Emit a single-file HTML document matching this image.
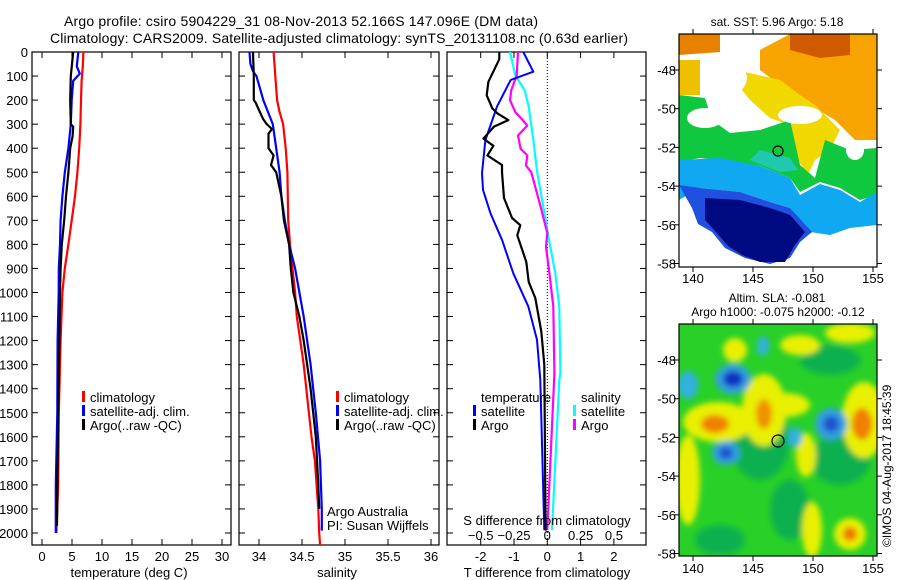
<!DOCTYPE html>
<html><head><meta charset="utf-8"><style>
html,body{margin:0;padding:0;background:#fff}
svg{display:block;font-family:"Liberation Sans",sans-serif}
</style></head><body>
<svg id="fig" width="900" height="580" viewBox="0 0 900 580" xmlns="http://www.w3.org/2000/svg">
<defs><filter id="bl" x="-50%" y="-50%" width="200%" height="200%"><feGaussianBlur stdDeviation="3"/></filter>
<clipPath id="cm1"><rect x="679" y="34" width="198" height="233"/></clipPath>
<clipPath id="cm2"><rect x="679" y="324" width="198" height="232"/></clipPath></defs>
<text x="301" y="26" font-size="14" text-anchor="middle" textLength="474">Argo profile: csiro 5904229_31 08-Nov-2013 52.166S 147.096E (DM data)</text>
<text x="339" y="43" font-size="14" text-anchor="middle" textLength="578">Climatology: CARS2009. Satellite-adjusted climatology: synTS_20131108.nc (0.63d earlier)</text>
<g id="panels"></g>
<g id="maps"></g>
</svg>
<script>
// ---- data (depth in dbar) ----
const tDepth=[0,60,90,120,200,300,400,500,600,700,800,900,1000,1200,1500,1800,2000];
const tClim=[6.9,6.8,6.7,6.6,6.5,6.4,6.2,5.9,5.5,4.95,4.4,3.8,3.4,3.1,2.8,2.7,2.4];
const tSat=[6.05,5.8,6.3,5.2,4.95,4.8,4.4,3.8,3.4,3.1,3.0,2.8,2.78,2.6,2.55,2.3,2.3];
const tArgoDepth=[0,100,200,300,310,350,400,500,600,700,800,900,1000,1200,1500,1800,1970];
const tArgo=[5.2,4.8,4.7,4.8,5.2,5.1,4.7,4.4,4.0,3.7,3.3,3.1,3.0,2.9,2.7,2.55,2.5];
const sDepth=[0,100,200,250,300,400,500,700,800,900,1000,1100,1200,1300,1500,1600,1700,1800,1900,2000,2050];
const sClim=[34.17,34.19,34.21,34.24,34.28,34.31,34.33,34.34,34.36,34.39,34.42,34.44,34.48,34.52,34.58,34.61,34.65,34.67,34.69,34.70,34.71];
const sSatDepth=[0,50,80,100,150,200,300,400,500,600,700,800,900,1000,1100,1300,1400,1500,1700,1900,1990];
const sSat=[33.89,33.9,33.93,33.97,34.01,34.05,34.16,34.2,34.24,34.26,34.30,34.35,34.42,34.47,34.52,34.60,34.63,34.66,34.71,34.73,34.73];
const sArgoDepth=[0,100,200,210,250,280,300,320,340,400,430,470,500,600,700,800,900,1000,1100,1200,1400,1500,1600,1800,1900];
const sArgo=[33.93,33.94,33.94,33.96,34.01,34.05,34.09,34.15,34.11,34.11,34.17,34.14,34.2,34.26,34.29,34.35,34.37,34.4,34.47,34.52,34.60,34.63,34.66,34.69,34.70];
const dtSatDepth=[0,82,116,227,366,503,573,670,781,920,1058,1197,1364,1988];
const dtSat=[-0.72,-0.42,-1.1,-1.51,-1.86,-1.96,-1.93,-1.71,-1.36,-1.02,-0.57,-0.31,-0.21,-0.09];
const dtArgoDepth=[0,30,124,180,235,255,283,310,360,390,430,470,500,607,690,720,762,873,956,1023,1162,1300,1990];
const dtArgo=[-1.44,-1.44,-1.77,-1.82,-1.65,-1.5,-1.17,-1.6,-1.92,-1.62,-1.8,-1.36,-1.36,-1.3,-1.06,-0.81,-0.9,-0.63,-0.56,-0.36,-0.18,-0.09,-0.05];
const dsSatDepth=[0,97,159,227,366,503,643,767,920,1058,1335,1364,1988];
const dsSat=[-0.28,-0.24,-0.17,-0.14,-0.105,-0.075,-0.03,0.008,0.06,0.09,0.098,0.09,0.035];
const dsArgoDepth=[0,97,159,200,250,280,306,347,403,430,472,500,643,753,809,920,1058,1335,1988];
const dsArgo=[-0.22,-0.23,-0.27,-0.28,-0.24,-0.19,-0.15,-0.22,-0.2,-0.15,-0.16,-0.12,-0.05,0,-0.01,0.016,0.045,0.053,0];
const depthTicks=[0,100,200,300,400,500,600,700,800,900,1000,1100,1200,1300,1400,1500,1600,1700,1800,1900,2000];
const tTicks=[0,5,10,15,20,25,30];
const sTicks=[34,34.5,35,35.5,36];
const dtTicks=[-2,-1,0,1,2];
const dsTicks=[-0.5,-0.25,0,0.25,0.5];
const lonTicks=[140,145,150,155];
const latTicks=[48,50,52,54,56,58];
// ---- scales ----
const yD=d=>52+d*0.2405;
const xT=t=>42+6*t;
const xS=s=>259+86*(s-34);
const xDT=t=>547.3+33.3*t;
const xDS=s=>547.3+133.2*s;
const NS='http://www.w3.org/2000/svg';
const P=document.getElementById('panels');
function mk(tag,at,par,txt){const e=document.createElementNS(NS,tag);for(const k in at)e.setAttribute(k,at[k]);if(txt!==undefined)e.textContent=txt;(par||P).appendChild(e);return e;}
function line(xs,ds,xf,col,name,w){
  const pts=xs.map((v,i)=>xf(v).toFixed(1)+','+yD(ds[i]).toFixed(1)).join(' ');
  const e=mk('polyline',{points:pts,fill:'none',stroke:col,'stroke-width':w||2.2,'stroke-linejoin':'round'});
  
  
}
const panels=[[32,231],[239,439],[447,646]];
const pb=545;
panels.forEach((p,i)=>{
  const r=mk('rect',{x:p[0],y:52,width:p[1]-p[0],height:pb-52,fill:'none',stroke:'#000','stroke-width':1.2});
  
  
  depthTicks.forEach(d=>{
    mk('line',{x1:p[0],x2:p[0]+6,y1:yD(d),y2:yD(d),stroke:'#000'});
    mk('line',{x1:p[1]-6,x2:p[1],y1:yD(d),y2:yD(d),stroke:'#000'});
  });
});
depthTicks.forEach(d=>{
  const t=mk('text',{x:28,y:yD(d)+5,'font-size':13,'text-anchor':'end'},P,String(d));
  
  
});
function xticks(ticks,xf,lab,ly,fmt){
  ticks.forEach(v=>{
    const x=xf(v);
    mk('line',{x1:x,x2:x,y1:pb,y2:pb-6,stroke:'#000'});
    mk('line',{x1:x,x2:x,y1:52,y2:58,stroke:'#000'});
    if(lab){const t=mk('text',{x:x,y:ly,'font-size':13,'text-anchor':'middle'},P,fmt?fmt(v):String(v));
    
    }
  });
}
xticks(tTicks,xT,true,561);
xticks(sTicks,xS,true,561);
xticks(dtTicks,xDT,true,561);
dsTicks.forEach(v=>{const t=mk('text',{x:xDS(v),y:540,'font-size':13,'text-anchor':'middle'},P,String(v).replace('-','\u2212'));

});
mk('line',{x1:xDT(0),x2:xDT(0),y1:52,y2:pb,stroke:'#000','stroke-dasharray':'1,2'});
line(tClim,tDepth,xT,'#f00','temp-climatology');
line(tSat,tDepth,xT,'#00f','temp-satellite-adj');
line(tArgo,tArgoDepth,xT,'#000','temp-argo');
line(sClim,sDepth,xS,'#f00','sal-climatology');
line(sSat,sSatDepth,xS,'#00f','sal-satellite-adj');
line(sArgo,sArgoDepth,xS,'#000','sal-argo');
line(dsSat,dsSatDepth,xDS,'#0ff','sdiff-satellite');
line(dsArgo,dsArgoDepth,xDS,'#f0f','sdiff-argo');
line(dtSat,dtSatDepth,xDT,'#00f','tdiff-satellite',2);
line(dtArgo,dtArgoDepth,xDT,'#000','tdiff-argo');
[['temperature (deg C)',129],['salinity',337],['T difference from climatology',547]].forEach((a,i)=>{
  const t=mk('text',{x:a[1],y:577,'font-size':13,'text-anchor':'middle'},P,a[0]);
  
  
});
const st=mk('text',{x:547,y:525,'font-size':13,'text-anchor':'middle'},P,'S difference from climatology');


function leg(x,y,col,label){
  mk('rect',{x:x,y:y-11,width:3,height:11,fill:col});
  const t=mk('text',{x:x+8,y:y,'font-size':13},P,label);
  
  
}
[[82],[336]].forEach(a=>{
  leg(a[0],402,'#f00','climatology');
  leg(a[0],416,'#00f','satellite-adj. clim.');
  leg(a[0],430,'#000','Argo(..raw -QC)');
});
mk('text',{x:481,y:402,'font-size':13},P,'temperature');
leg(473,416,'#00f','satellite');
leg(473,430,'#000','Argo');
mk('text',{x:581,y:402,'font-size':13},P,'salinity');
leg(573,416,'#0ff','satellite');
leg(573,430,'#f0f','Argo');
mk('text',{x:327,y:516,'font-size':13},P,'Argo Australia');
mk('text',{x:327,y:530,'font-size':13},P,'PI: Susan Wijffels');

// ---- maps ----
const M=document.getElementById('maps');
function mm(tag,at,txt,par){return mk(tag,at,par||M,txt);}
const g1=mm('g',{'clip-path':'url(#cm1)'});


mk('rect',{x:679,y:34,width:198,height:233,fill:'#fff'},g1);
const poly=(pts,c,g)=>mk('polygon',{points:pts,fill:c},g);
poly('790,34 877,34 877,140 855,140 835,120 810,105 790,100 780,85 760,70 760,50','#f7a400',g1);
poly('790,34 850,34 850,55 820,58 790,50','#d05a00',g1);
poly('679,34 720,34 720,52 679,55','#e88000',g1);
poly('679,60 700,60 700,95 679,95','#f0c000',g1);
poly('745,72 780,80 800,95 815,105 840,130 830,150 815,160 808,175 798,160 790,125 770,118 750,100 742,90','#f0d800',g1);
poly('679,95 705,98 712,120 730,133 760,130 790,120 800,165 815,178 825,140 850,150 877,148 877,195 860,200 840,188 820,182 800,192 790,178 760,166 720,160 700,158 679,162','#10c840',g1);
poly('679,160 720,158 760,166 790,178 800,195 820,184 840,190 860,202 877,192 877,225 850,228 830,235 810,232 790,208 770,202 740,192 700,188 679,200','#10a8f0',g1);
poly('760,150 790,158 798,170 780,172 750,160','#20c8b0',g1);
poly('679,185 700,188 740,192 770,202 790,208 812,232 800,242 790,258 770,264 745,258 725,248 712,232 698,224 692,208','#2050e0',g1);
poly('705,198 740,200 770,208 790,215 805,232 795,245 785,262 760,262 742,255 728,246 716,232 705,220','#000a80',g1);
poly('679,218 698,224 712,240 705,267 679,267','#fff',g1);
poly('830,240 877,236 877,267 830,267','#fff',g1);
poly('808,238 825,236 830,255 818,262 805,250','#fff',g1);
mk('ellipse',{cx:725,cy:78,rx:22,ry:18,fill:'#fff'},g1);
mk('ellipse',{cx:800,cy:115,rx:22,ry:9,fill:'#fff'},g1);
mk('ellipse',{cx:705,cy:118,rx:18,ry:10,fill:'#fff'},g1);
mk('ellipse',{cx:855,cy:150,rx:9,ry:10,fill:'#fff'},g1);
mk('circle',{cx:778,cy:151,r:5,fill:'none',stroke:'#000','stroke-width':1.2},g1);

const g2=mm('g',{'clip-path':'url(#cm2)'});


mk('rect',{x:679,y:324,width:198,height:232,fill:'#28d028'},g2);
const bg=mk('g',{filter:'url(#bl)'},g2);
const E=(cx,cy,rx,ry,c)=>mk('ellipse',{cx,cy,rx,ry,fill:c},bg);
E(760,440,30,40,'#10b050');E(840,460,30,25,'#10b050');E(830,360,30,15,'#10b050');E(720,540,25,15,'#10b050');E(790,510,20,30,'#10b050');
E(735,350,12,12,'#e8f000');E(800,345,20,10,'#e8f000');E(850,333,25,10,'#e8f000');
E(718,422,35,20,'#e8f000');E(764,410,22,36,'#e8f000');E(864,420,22,38,'#e8f000');E(806,455,10,22,'#e8f000');
E(688,480,12,45,'#e8f000');E(812,530,10,28,'#e8f000');E(850,534,16,16,'#e8f000');E(785,405,25,12,'#e8f000');
E(715,424,14,9,'#f08000');E(764,414,8,15,'#f09000');E(862,424,10,16,'#f08000');E(850,534,7,7,'#f07000');
E(733,379,18,15,'#30a0e0');E(733,379,10,8,'#1030c0');E(726,453,14,12,'#30a0e0');E(726,453,7,6,'#2050d0');
E(831,424,16,16,'#30a0e0');E(831,424,8,8,'#2050d0');E(763,346,6,10,'#30b0e0');E(688,385,10,14,'#30b0e0');E(795,437,7,10,'#30b0e0');
mk('circle',{cx:778,cy:441,r:6,fill:'none',stroke:'#000','stroke-width':1.2},g2);

function mapAxes(top,bot,lat0,xl){
  mm('rect',{x:679,y:top,width:198,height:bot-top,fill:'none',stroke:'#000','stroke-width':1.2});
  lonTicks.forEach(v=>{const x=693+12*(v-140);
    mm('line',{x1:x,x2:x,y1:top,y2:top-5,stroke:'#000'});
    mm('line',{x1:x,x2:x,y1:bot,y2:bot+5,stroke:'#000'});
    const t=mm('text',{x:x,y:xl,'font-size':13,'text-anchor':'middle'},String(v));
    
    });
  latTicks.forEach(v=>{const y=lat0+19.35*(v-48);
    mm('line',{x1:679,x2:674,y1:y,y2:y,stroke:'#000'});
    mm('line',{x1:877,x2:882,y1:y,y2:y,stroke:'#000'});
    const t=mm('text',{x:676,y:y+5,'font-size':13,'text-anchor':'end'},'-'+v);
    
    });
}
mapAxes(34,267,70,283);
mapAxes(324,556,360,573);
mm('text',{x:777,y:26,'font-size':12,'text-anchor':'middle'},'sat. SST: 5.96 Argo: 5.18');
mm('text',{x:777,y:302,'font-size':12,'text-anchor':'middle'},'Altim. SLA: -0.081');
mm('text',{x:778,y:316,'font-size':12,'text-anchor':'middle'},'Argo h1000: -0.075 h2000: -0.12');
mm('text',{x:0,y:0,'font-size':12,'text-anchor':'start',transform:'translate(891,547) rotate(-90)'},'\u00A9IMOS 04-Aug-2017 18:45:39');
</script>
</body></html>
